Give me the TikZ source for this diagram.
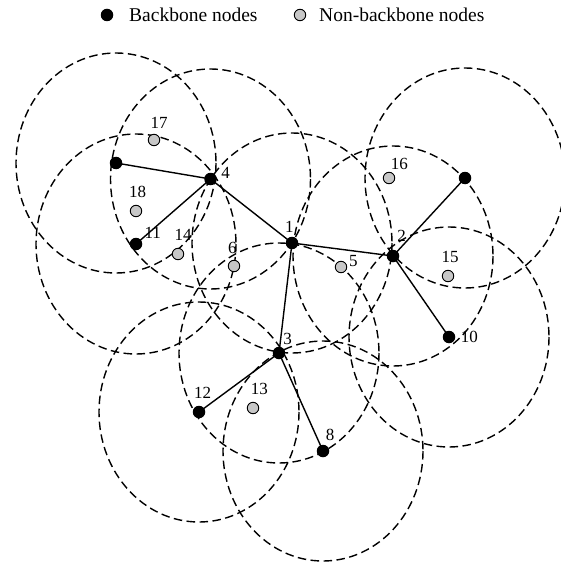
\documentclass[tikz,border=0pt]{standalone}
\usepackage{fontspec}
\setmainfont{Liberation Serif}
\begin{document}
\begin{tikzpicture}[x=1pt,y=-1pt,
  rangering/.style={draw=black,line width=1.4pt,dash pattern=on 8.5pt off 4.5pt},
  bb/.style={circle,fill=black,inner sep=0pt,minimum size=12.5pt},
  nb/.style={circle,draw=black,line width=0.9pt,fill=black!22,inner sep=0pt,minimum size=11.5pt},
  lab/.style={inner sep=0pt,font=\fontsize{17}{17}\selectfont},
  leg/.style={inner sep=0pt,anchor=west,font=\fontsize{19.5}{19.5}\selectfont},
  link/.style={draw=black,line width=1.4pt}]
\useasboundingbox (0,0) rectangle (560,564);
% backbone nodes
\coordinate (pU1) at (116,163);
\coordinate (p4) at (210.5,179);
\coordinate (p11) at (136,244);
\coordinate (p1) at (292,243);
\coordinate (p2) at (393,256);
\coordinate (pU2) at (465,178);
\coordinate (p10) at (449,337);
\coordinate (p3) at (279,353);
\coordinate (p12) at (199,412);
\coordinate (p8) at (323,451);
% ranges
\foreach \c in {pU1,p4,p11,p1,p2,pU2,p10,p3,p12,p8}
  \draw[rangering] (\c) ellipse [x radius=100, y radius=110];
% links
\draw[link] (pU1) -- (p4);
\draw[link] (p11) -- (p4);
\draw[link] (p4) -- (p1);
\draw[link] (p1) -- (p2);
\draw[link] (p1) -- (p3);
\draw[link] (p2) -- (pU2);
\draw[link] (p2) -- (p10);
\draw[link] (p3) -- (p12);
\draw[link] (p3) -- (p8);
% node dots
\foreach \c/\n in {pU1/nU1,p4/n4,p11/n11,p1/n1,p2/n2,pU2/nU2,p10/n10,p3/n3,p12/n12,p8/n8}
  \node[bb] (\n) at (\c) {};
\node[nb] (n17) at (154,140) {};
\node[nb] (n18) at (136,211) {};
\node[nb] (n14) at (178,254) {};
\node[nb] (n6) at (234,266) {};
\node[nb] (n16) at (389,178) {};
\node[nb] (n5) at (341,267) {};
\node[nb] (n15) at (448,276) {};
\node[nb] (n13) at (253,408) {};
% labels
\node[lab] (l4) at (225.5,173) {4};
\node[lab] (l11) at (152.7,233) {11};
\node[lab] (l18) at (137.7,191.7) {18};
\node[lab] (l17) at (159,123) {17};
\node[lab] (l14) at (183,235) {14};
\node[lab] (l6) at (232.3,248.3) {6};
\node[lab] (l1) at (289.3,227.3) {1};
\node[lab] (l2) at (401.7,236) {2};
\node[lab] (l16) at (399.3,164) {16};
\node[lab] (l5) at (353.3,260.7) {5};
\node[lab] (l15) at (450,257.3) {15};
\node[lab] (l3) at (287.7,339.3) {3};
\node[lab] (l12) at (202.7,392.7) {12};
\node[lab] (l13) at (259.3,389.3) {13};
\node[lab] (l8) at (330,435) {8};
\node[lab] (l10) at (469.3,337.3) {10};
% legend
\node[bb] (kb) at (107,15) {};
\node[leg] (tb) at (129,15) {Backbone nodes};
\node[nb] (kn) at (300,15) {};
\node[leg] (tn) at (319,15) {Non-backbone nodes};
\end{tikzpicture}
\end{document}
